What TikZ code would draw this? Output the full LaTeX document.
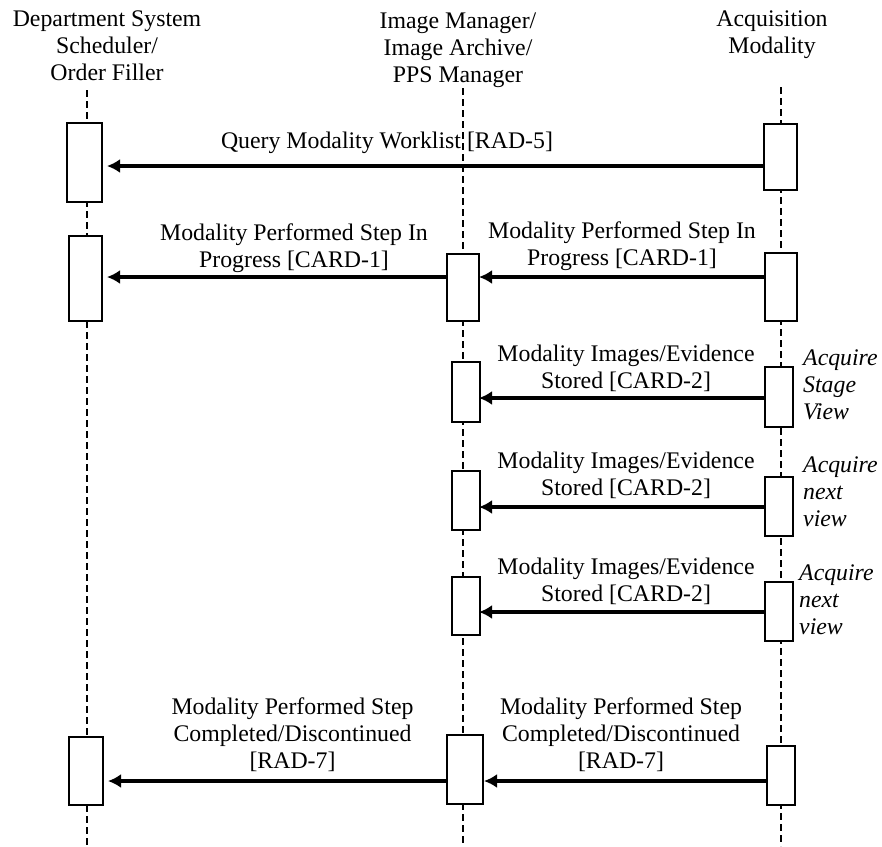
\documentclass[tikz,border=0pt]{standalone}
\usepackage{fontspec}
\setmainfont{Liberation Serif}
\usetikzlibrary{arrows.meta}
\begin{document}
\begin{tikzpicture}[x=1pt,y=-1pt,
  lifeline/.style={line width=1.8pt, dash pattern=on 7pt off 4pt},
  bar/.style={draw, line width=1.5pt, fill=white, inner sep=0pt, outer sep=0pt},
  msg/.style={line width=3.5pt, -{Latex[length=13pt,width=14pt]}},
  lbl/.style={inner sep=0pt, align=center, font=\fontsize{23.8}{27}\selectfont},
  act/.style={inner sep=0pt, align=left, anchor=west, font=\fontsize{23.8}{27}\selectfont\itshape},
]
\useasboundingbox (0,0) rectangle (882,846);

% headers
\node[lbl] (hL) at (107,46) {Department System\\Scheduler/\\Order Filler};
\node[lbl] (hM) at (458,50) {Image Manager/\\Image Archive/\\PPS Manager};
\node[lbl] (hR) at (772,35) {Acquisition\\Modality};

% lifelines
\coordinate (Ltop) at (87,90);   \coordinate (Lbot) at (87,846);
\coordinate (Mtop) at (463,88);  \coordinate (Mbot) at (463,846);
\coordinate (Rtop) at (781,87);  \coordinate (Rbot) at (781,846);
\draw[lifeline] (Ltop) -- (Lbot);
\draw[lifeline] (Mtop) -- (Mbot);
\draw[lifeline] (Rtop) -- (Rbot);

% activation bars
\node[bar, minimum width=35pt, minimum height=79pt] (L1) at (84.5,162.5) {};
\node[bar, minimum width=33pt, minimum height=66pt] (R1) at (780.5,157) {};
\node[bar, minimum width=33pt, minimum height=85pt] (L2) at (85.5,278.5) {};
\node[bar, minimum width=32pt, minimum height=67pt] (M2) at (463,287.5) {};
\node[bar, minimum width=32pt, minimum height=68pt] (R2) at (781,287) {};
\node[bar, minimum width=28pt, minimum height=60pt] (M3) at (466,392) {};
\node[bar, minimum width=28pt, minimum height=60pt] (R3) at (779,397) {};
\node[bar, minimum width=28pt, minimum height=59pt] (M4) at (466,500.5) {};
\node[bar, minimum width=28pt, minimum height=59pt] (R4) at (779,506.5) {};
\node[bar, minimum width=28pt, minimum height=58pt] (M5) at (466,606) {};
\node[bar, minimum width=28pt, minimum height=59pt] (R5) at (779,611.5) {};
\node[bar, minimum width=34pt, minimum height=68pt] (L6) at (86,771) {};
\node[bar, minimum width=36pt, minimum height=69pt] (M6) at (465,769.5) {};
\node[bar, minimum width=28pt, minimum height=59pt] (R6) at (781,775.5) {};

% message rows
\coordinate (y1) at (0,166);
\coordinate (y2) at (0,277);
\coordinate (y3) at (0,398);
\coordinate (y4) at (0,507);
\coordinate (y5) at (0,612);
\coordinate (y6) at (0,781);

\draw[msg, shorten >=5pt] (R1.west |- y1) -- (L1.east |- y1);
\draw[msg, shorten >=5pt] (M2.west |- y2) -- (L2.east |- y2);
\draw[msg] (R2.west |- y2) -- (M2.east |- y2);
\draw[msg, shorten >=-1pt] (R3.west |- y3) -- (M3.east |- y3);
\draw[msg, shorten >=-1pt] (R4.west |- y4) -- (M4.east |- y4);
\draw[msg, shorten >=-1pt] (R5.west |- y5) -- (M5.east |- y5);
\draw[msg, shorten >=5pt] (M6.west |- y6) -- (L6.east |- y6);
\draw[msg, shorten >=1pt] (R6.west |- y6) -- (M6.east |- y6);

% message labels
\node[lbl] (t1) at (387,143) {Query Modality Worklist [RAD-5]};
\node[lbl] (t2a) at (294,248) {Modality Performed Step In\\Progress [CARD-1]};
\node[lbl] (t2b) at (622,246) {Modality Performed Step In\\Progress [CARD-1]};
\node[lbl] (t3) at (626,368) {Modality Images/Evidence\\Stored [CARD-2]};
\node[lbl] (t4) at (626,475) {Modality Images/Evidence\\Stored [CARD-2]};
\node[lbl] (t5) at (626,581) {Modality Images/Evidence\\Stored [CARD-2]};
\node[lbl] (t6a) at (292.5,735) {Modality Performed Step\\Completed/Discontinued\\{[RAD-7]}};
\node[lbl] (t6b) at (621,735) {Modality Performed Step\\Completed/Discontinued\\{[RAD-7]}};

% activity notes
\node[act] (n3) at (803,385) {Acquire\\Stage\\View};
\node[act] (n4) at (803,492) {Acquire\\next\\view};
\node[act] (n5) at (799,599.5) {Acquire\\next\\view};
\end{tikzpicture}
\end{document}
